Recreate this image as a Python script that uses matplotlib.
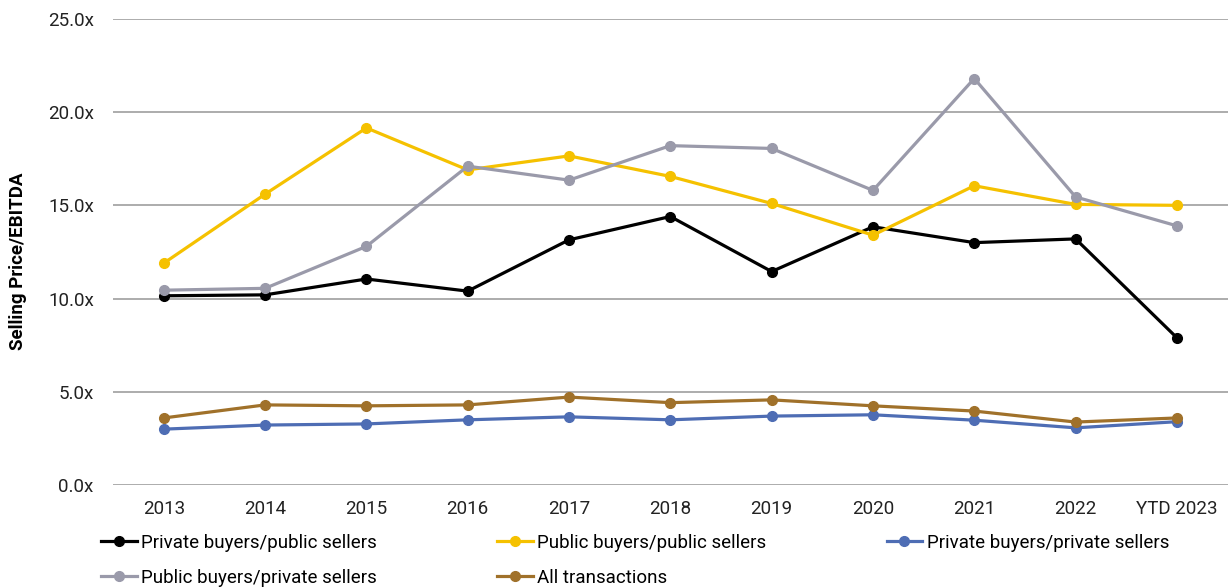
import matplotlib.pyplot as plt
from matplotlib.ticker import FuncFormatter

plt.rcParams['font.family'] = ['Roboto', 'DejaVu Sans']

years = ['2013', '2014', '2015', '2016', '2017', '2018', '2019', '2020', '2021', '2022', 'YTD 2023']

# multiples
priv_pub = [10.15, 10.2, 11.05, 10.4, 13.15, 14.4, 11.45, 13.85, 13.0, 13.2, 7.9]
pub_pub = [11.9, 15.6, 19.15, 16.9, 17.65, 16.55, 15.1, 13.4, 16.05, 15.05, 15.0]
priv_priv = [3.0, 3.22, 3.28, 3.5, 3.66, 3.5, 3.7, 3.77, 3.48, 3.07, 3.4]
pub_priv = [10.45, 10.55, 12.8, 17.1, 16.35, 18.2, 18.05, 15.8, 21.8, 15.45, 13.9]
all_tx = [3.6, 4.3, 4.25, 4.3, 4.72, 4.42, 4.57, 4.25, 3.97, 3.38, 3.6]

series = [
    ('Private buyers/public sellers', priv_pub, '#000000'),
    ('Public buyers/public sellers', pub_pub, '#f5c100'),
    ('Private buyers/private sellers', priv_priv, '#4e6db4'),
    ('Public buyers/private sellers', pub_priv, '#9a9aaa'),
    ('All transactions', all_tx, '#a0712a'),
]

fig = plt.figure(figsize=(12.3, 5.88), dpi=100)
ax = fig.add_axes([0.092, 0.175, 0.906, 0.793])

x = range(len(years))
handles = {}
for name, vals, col in series:
    h, = ax.plot(x, vals, color=col, lw=2.3, marker='o', ms=7, label=name, zorder=3)
    handles[name] = h

ax.set_xlim(-0.5, len(years) - 0.5)
ax.set_ylim(0, 25)
ax.set_yticks([0, 5, 10, 15, 20, 25])
ax.yaxis.set_major_formatter(FuncFormatter(lambda v, p: f'{v:.1f}x'))
ax.set_xticks(list(x))
ax.set_xticklabels(years)
ax.grid(axis='y', color='#a6a6a6', lw=1.3)
ax.set_axisbelow(True)
for s in ax.spines.values():
    s.set_visible(False)
ax.tick_params(length=0, labelsize=13.5, colors='#222222', pad=11)
ax.tick_params(axis='y', pad=14)
ax.set_ylabel('Selling Price/EBITDA', fontsize=13.5, fontweight='bold')
ax.yaxis.set_label_coords(-0.077, 0.479)

# legend laid out in rows: col-major order for ncol=3
order = ['Private buyers/public sellers', 'Public buyers/private sellers',
         'Public buyers/public sellers', 'All transactions',
         'Private buyers/private sellers']
fig.legend([handles[n] for n in order], order, loc='upper left',
           bbox_to_anchor=(0.0745, 0.108), ncol=3, frameon=False,
           fontsize=13.5, handlelength=1.9, handletextpad=0.25,
           columnspacing=6.4, labelspacing=0.9, borderpad=0)

fig.savefig('out.png', dpi=100)
